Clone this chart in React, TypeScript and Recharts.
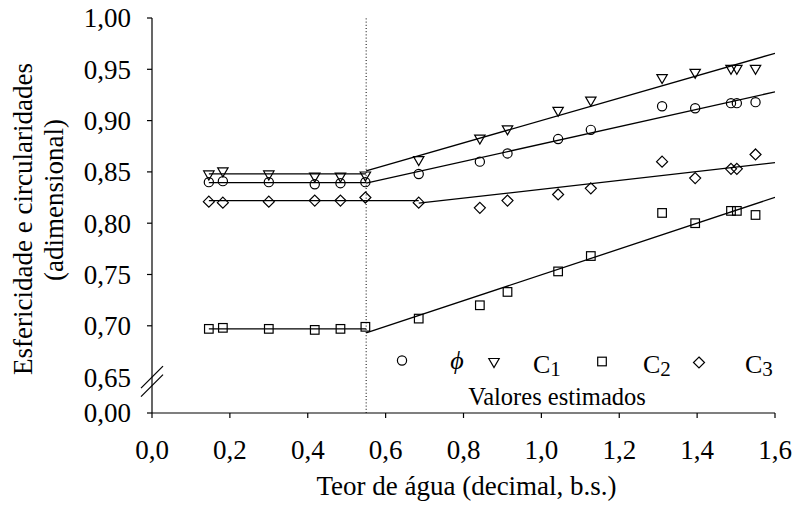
import React from "react";
import {
  ComposedChart,
  Scatter,
  Line,
  XAxis,
  YAxis,
  ReferenceLine,
} from "recharts";

// Teor de água (decimal, b.s.)
const teorAgua = [0.146, 0.182, 0.3, 0.418, 0.484, 0.548, 0.685, 0.842, 0.913, 1.043, 1.127, 1.31, 1.395, 1.487, 1.502, 1.55];

// valores observados
const esfericidade = [0.84, 0.841, 0.84, 0.838, 0.839, 0.84, 0.848, 0.86, 0.868, 0.882, 0.891, 0.914, 0.912, 0.917, 0.917, 0.918];
const circ1 = [0.847, 0.85, 0.847, 0.845, 0.845, 0.846, 0.861, 0.882, 0.891, 0.909, 0.919, 0.941, 0.946, 0.95, 0.95, 0.95];
const circ2 = [0.697, 0.698, 0.697, 0.696, 0.697, 0.699, 0.707, 0.72, 0.733, 0.753, 0.768, 0.81, 0.8, 0.812, 0.812, 0.808];
const circ3 = [0.821, 0.82, 0.821, 0.822, 0.822, 0.825, 0.82, 0.815, 0.822, 0.828, 0.834, 0.86, 0.844, 0.853, 0.853, 0.867];

// valores estimados (trechos constante e linear)
const estEsfericidade = [[[0.146, 0.8395], [0.55, 0.8395]], [[0.55, 0.839], [1.6, 0.928]]];
const estCirc1 = [[[0.146, 0.848], [0.55, 0.848]], [[0.55, 0.851], [1.6, 0.9656]]];
const estCirc2 = [[[0.146, 0.697], [0.55, 0.697]], [[0.55, 0.693], [1.6, 0.8252]]];
const estCirc3 = [[[0.146, 0.822], [0.685, 0.822]], [[0.685, 0.8195], [1.6, 0.859]]];

const xTicks = [0, 0.2, 0.4, 0.6, 0.8, 1.0, 1.2, 1.4, 1.6];
const yBreak = 0.615; // posição do "0,00" abaixo da quebra do eixo
const yTicks = [yBreak, 0.65, 0.7, 0.75, 0.8, 0.85, 0.9, 0.95, 1.0];
const xCritico = 0.55;

const FONT = "'Liberation Serif', 'Times New Roman', serif";

const pts = (ys: number[]) => teorAgua.map((x, i) => ({ x, y: ys[i] }));
const seg = (s: number[][]) => s.map(([x, y]) => ({ x, y }));

const sw = 1.2;
const CircleMark = ({ cx, cy }: any) => (
  <circle cx={cx} cy={cy} r={4.6} fill="none" stroke="#000" strokeWidth={sw} />
);
const TriMark = ({ cx, cy }: any) => (
  <path d={`M${cx - 5.2},${cy - 4} L${cx + 5.2},${cy - 4} L${cx},${cy + 5} Z`} fill="none" stroke="#000" strokeWidth={sw} />
);
const SquareMark = ({ cx, cy }: any) => (
  <rect x={cx - 4.3} y={cy - 4.3} width={8.6} height={8.6} fill="none" stroke="#000" strokeWidth={sw} />
);
const DiamondMark = ({ cx, cy }: any) => (
  <path d={`M${cx},${cy - 5.5} L${cx + 5.5},${cy} L${cx},${cy + 5.5} L${cx - 5.5},${cy} Z`} fill="none" stroke="#000" strokeWidth={sw} />
);

const AXIS_X = 152;

const YTick = ({ y, payload }: any) => {
  const v = payload.value;
  const label = v === yBreak ? "0,00" : v.toFixed(2).replace(".", ",");
  return (
    <g>
      {v === 0.65 ? (
        <g stroke="#000" strokeWidth={1.2}>
          <line x1={AXIS_X - 11} y1={y + 11} x2={AXIS_X + 11} y2={y - 11} />
          <line x1={AXIS_X - 11} y1={y + 19.5} x2={AXIS_X + 11} y2={y - 2.5} />
        </g>
      ) : (
        <line x1={AXIS_X - 5} y1={y} x2={AXIS_X} y2={y} stroke="#000" strokeWidth={1.2} />
      )}
      <text x={131} y={y} dy="0.35em" textAnchor="end" fontSize={27} fontFamily={FONT} fill="#000">
        {label}
      </text>
    </g>
  );
};

const Legenda = () => (
  <svg width={796} height={513} style={{ position: "absolute", left: 0, top: 0, pointerEvents: "none" }}>
    <g fontFamily={FONT} fill="#000">
      <CircleMark cx={402} cy={360.5} />
      <text x={457} y={369} fontSize={26} fontStyle="italic" textAnchor="middle">ϕ</text>
      <TriMark cx={494} cy={362.5} />
      <text x={533} y={372.5} fontSize={26}>C<tspan fontSize={21} dy={3}>1</tspan></text>
      <SquareMark cx={602} cy={361.5} />
      <text x={643} y={372.5} fontSize={26}>C<tspan fontSize={21} dy={3}>2</tspan></text>
      <DiamondMark cx={699} cy={362.5} />
      <text x={745} y={372.5} fontSize={26}>C<tspan fontSize={21} dy={3}>3</tspan></text>
      <text x={557} y={405} fontSize={24.5} textAnchor="middle">Valores estimados</text>
      <text x={466.5} y={495} fontSize={27} textAnchor="middle">Teor de água (decimal, b.s.)</text>
      <text transform="translate(32,219) rotate(-90)" fontSize={27} textAnchor="middle">Esfericidade e circularidades</text>
      <text transform="translate(63,200) rotate(-90)" fontSize={27} textAnchor="middle">(adimensional)</text>
    </g>
  </svg>
);

export default function App() {
  const estimados = [estEsfericidade, estCirc1, estCirc2, estCirc3];
  return (
    <div style={{ position: "absolute", left: 0, top: 0, width: 796, height: 513, background: "#fff" }}>
      <ComposedChart width={796} height={513} margin={{ top: 18, right: 21, bottom: 0, left: 0 }}>
        <XAxis
          type="number"
          dataKey="x"
          domain={[0, 1.6]}
          ticks={xTicks}
          allowDataOverflow
          height={100}
          tickSize={5}
          tickMargin={22}
          tickFormatter={(v: number) => v.toFixed(1).replace(".", ",")}
          tick={{ fontSize: 27, fill: "#000", fontFamily: FONT }}
          axisLine={{ stroke: "#000", strokeWidth: 1.2 }}
          tickLine={{ stroke: "#000", strokeWidth: 1.2 }}
        />
        <YAxis
          type="number"
          domain={[yBreak, 1.0]}
          ticks={yTicks}
          allowDataOverflow
          width={152}
          tickLine={false}
          tick={<YTick />}
          axisLine={{ stroke: "#000", strokeWidth: 1.2 }}
        />
        <ReferenceLine x={xCritico} stroke="#000" strokeWidth={1} strokeDasharray="1 2.2" />
        {estimados.map((serie, i) =>
          serie.map((s, j) => (
            <Line
              key={`e${i}${j}`}
              data={seg(s)}
              dataKey="y"
              type="linear"
              dot={false}
              activeDot={false}
              stroke="#000"
              strokeWidth={1.3}
              isAnimationActive={false}
            />
          ))
        )}
        <Scatter data={pts(esfericidade)} dataKey="y" shape={<CircleMark />} isAnimationActive={false} />
        <Scatter data={pts(circ1)} dataKey="y" shape={<TriMark />} isAnimationActive={false} />
        <Scatter data={pts(circ2)} dataKey="y" shape={<SquareMark />} isAnimationActive={false} />
        <Scatter data={pts(circ3)} dataKey="y" shape={<DiamondMark />} isAnimationActive={false} />
      </ComposedChart>
      <Legenda />
    </div>
  );
}
